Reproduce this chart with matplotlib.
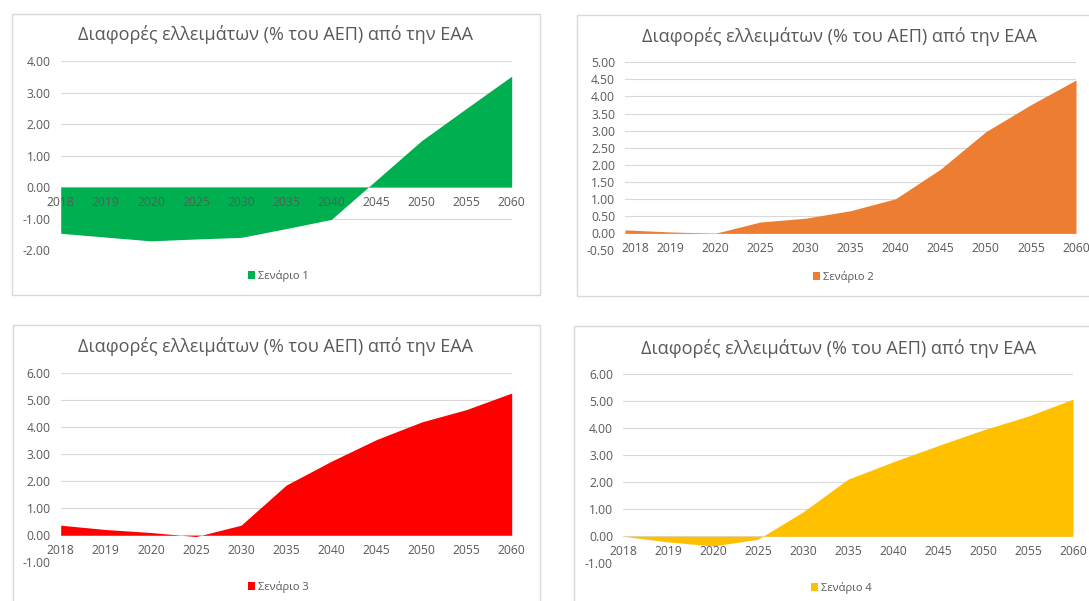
import matplotlib
matplotlib.use("Agg")
import matplotlib.pyplot as plt
from matplotlib.patches import Rectangle

plt.rcParams['font.family'] = ['Open Sans', 'DejaVu Sans']

years = ['2018', '2019', '2020', '2025', '2030', '2035', '2040', '2045', '2050', '2055', '2060']
scenario1 = [-1.47, -1.59, -1.71, -1.65, -1.60, -1.32, -1.03, 0.22, 1.47, 2.50, 3.52]
scenario2 = [0.10, 0.04, 0.00, 0.33, 0.44, 0.66, 1.01, 1.88, 2.97, 3.76, 4.48]
scenario3 = [0.37, 0.21, 0.10, -0.05, 0.37, 1.85, 2.73, 3.53, 4.18, 4.64, 5.25]
scenario4 = [0.00, -0.21, -0.36, -0.11, 0.90, 2.11, 2.75, 3.35, 3.93, 4.44, 5.07]
labels = ['Σενάριο 1', 'Σενάριο 2', 'Σενάριο 3', 'Σενάριο 4']
colors = ['#00B050', '#ED7D31', '#FF0000', '#FFC000']
title = 'Διαφορές ελλειμάτων (% του ΑΕΠ) από την ΕΑΑ'

W, H = 1089, 601
fig = plt.figure(figsize=(W / 100, H / 100), dpi=100)
fig.patch.set_facecolor('white')

TXT = '#595959'
GRID = '#d9d9d9'

panels = [
    dict(box=(12.5, 14, 540, 295), plot=(60.7, 511.7, 61, 250), ylim=(-2, 4), step=1.0,
         tpos=(276, 35), lpos=(278.5, 276), shift=0),
    dict(box=(577.3, 15, 1104, 296), plot=(625, 1076, 62.3, 250.4), ylim=(-0.5, 5), step=0.5,
         tpos=(840, 36), lpos=(843.6, 277), shift=10),
    dict(box=(13, 325, 540, 640), plot=(60.7, 511.7, 372.7, 562.3), ylim=(-1, 6), step=1.0,
         tpos=(276, 347), lpos=(278.5, 587), shift=0),
    dict(box=(574, 326, 1104, 640), plot=(623, 1073, 374, 563.3), ylim=(-1, 6), step=1.0,
         tpos=(838.5, 348), lpos=(841, 588), shift=0),
]
series = [scenario1, scenario2, scenario3, scenario4]

for p, vals, lab, col in zip(panels, series, labels, colors):
    bx0, by0, bx1, by1 = p['box']
    fig.patches.append(Rectangle((bx0 / W, 1 - by1 / H), (bx1 - bx0) / W, (by1 - by0) / H,
                                 transform=fig.transFigure, fill=False,
                                 edgecolor=GRID, lw=1.0, zorder=0))
    x0, x1, yt, yb = p['plot']
    ax = fig.add_axes([x0 / W, 1 - yb / H, (x1 - x0) / W, (yb - yt) / H])
    ax.set_facecolor('none')
    xs = list(range(len(years)))
    ax.fill_between(xs, vals, 0, color=col, lw=0, label=lab, zorder=2)
    ax.set_xlim(0, len(years) - 1)
    lo, hi = p['ylim']
    ax.set_ylim(lo, hi)
    n = int(round((hi - lo) / p['step']))
    ticks = [lo + i * p['step'] for i in range(n + 1)]
    ax.set_yticks(ticks)
    ax.set_yticklabels([f'{t:.2f}' for t in ticks])
    ax.tick_params(axis='y', length=0, pad=7.2, labelsize=8.7, labelcolor=TXT)
    ax.set_xticks([])
    ax.yaxis.grid(True, color=GRID, lw=0.8)
    ax.set_axisbelow(True)
    for s in ax.spines.values():
        s.set_visible(False)
    for i, yl in enumerate(years):
        dx = p['shift'] if i == 0 else 0
        ax.annotate(yl, xy=(i, 0), xytext=(dx, -15), textcoords='offset pixels',
                    ha='center', va='center', fontsize=8.7, color=TXT, zorder=3,
                    annotation_clip=False)
    tx, ty = p['tpos']
    fig.text(tx / W, 1 - ty / H, title, ha='center', va='center', fontsize=13, color=TXT)
    lx, ly = p['lpos']
    ax.legend(loc='center', bbox_to_anchor=(lx / W, 1 - ly / H), bbox_transform=fig.transFigure,
              frameon=False, fontsize=8, handlelength=0.65, handleheight=0.65,
              handletextpad=0.25, labelcolor=TXT, borderpad=0)

fig.savefig('out.png', dpi=100, facecolor='white')
